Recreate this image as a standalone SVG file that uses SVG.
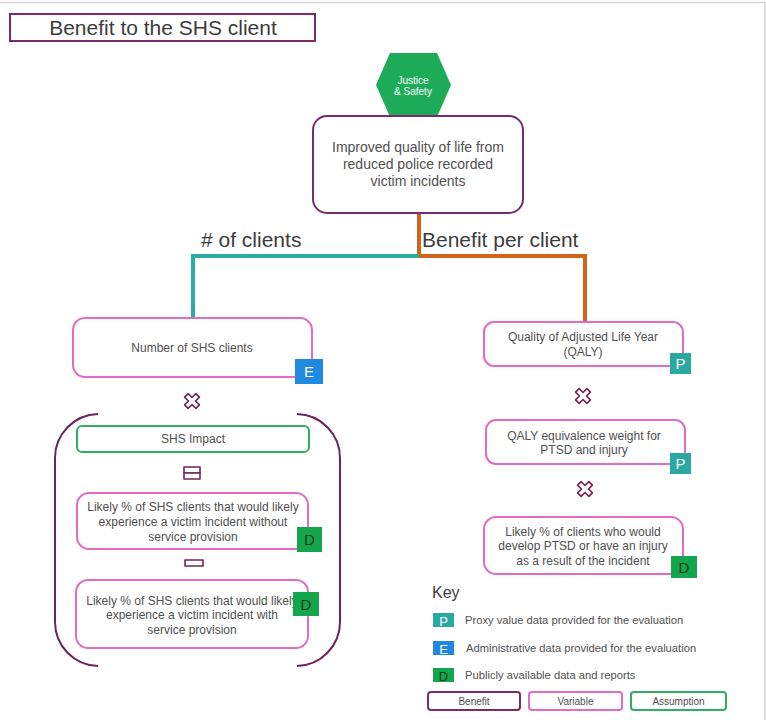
<svg xmlns="http://www.w3.org/2000/svg" width="766" height="720" viewBox="0 0 766 720">
  <style>
    text { font-family: "Liberation Sans", Arial, sans-serif; fill: #505050; }
    .benefit { fill: #fff; stroke: #7b2a6c; stroke-width: 2; }
    .variable { fill: #fff; stroke: #e36bc4; stroke-width: 2; }
    .assumption { fill: #fff; stroke: #2eae62; stroke-width: 2; }
    .node { font-size: 12px; text-anchor: middle; }
    .badge-p { fill: #2aa9a1; }
    .badge-e { fill: #1f88e0; }
    .badge-d { fill: #14a64c; }
    .btxt { font-size: 15px; text-anchor: middle; fill: #fff; }
    .dtxt { font-size: 15px; text-anchor: middle; fill: #173a1f; }
    .op { fill: #fff; stroke: #6e2458; stroke-width: 1.6; stroke-linejoin: round; }
    .keytxt { font-size: 11.2px; fill: #505050; }
    .legtxt { font-size: 10px; text-anchor: middle; }
  </style>
  <defs>
    <path id="times" class="op" d="M-2.5,-8 L2.5,-8 L2.5,-2.5 L8,-2.5 L8,2.5 L2.5,2.5 L2.5,8 L-2.5,8 L-2.5,2.5 L-8,2.5 L-8,-2.5 L-2.5,-2.5 Z" transform="rotate(45)"/>
  </defs>

  <!-- page frame -->
  <rect x="0" y="0" width="766" height="720" fill="#fff"/>
  <path d="M0,2.5 H765 V720" fill="none" stroke="#d6d6d6" stroke-width="1.5"/>

  <!-- title -->
  <g id="title">
    <rect class="benefit" x="10" y="14" width="305" height="27"/>
    <text x="163" y="35" font-size="21" text-anchor="middle" style="fill:#3c3c3c">Benefit to the SHS client</text>
  </g>

  <!-- connectors -->
  <g id="connectors" fill="none" stroke-width="4">
    <path d="M419,213 V256 H585 V321" stroke="#d4621b"/>
    <path d="M419,256 H193 V318" stroke="#2aada6"/>
  </g>
  <g id="branch-labels">
    <text x="201" y="247" font-size="21" style="fill:#3c3c3c"># of clients</text>
    <text x="422" y="247" font-size="21" style="fill:#3c3c3c">Benefit per client</text>
  </g>

  <!-- outcome domain -->
  <g id="domain">
    <polygon points="390,53 437,53 451,85 437,117 390,117 376,85" fill="#1dab57"/>
    <text x="413" y="84" font-size="10" text-anchor="middle" style="fill:#fff">Justice</text>
    <text x="413" y="95" font-size="10" text-anchor="middle" style="fill:#fff">&amp; Safety</text>
  </g>

  <g id="benefit">
    <rect class="benefit" x="313" y="116" width="210" height="97" rx="14"/>
    <text class="node" x="418" y="152" style="font-size:14px">Improved quality of life from</text>
    <text class="node" x="418" y="169" style="font-size:14px">reduced police recorded</text>
    <text class="node" x="418" y="186" style="font-size:14px">victim incidents</text>
  </g>

  <!-- left branch -->
  <g id="num-clients">
    <rect class="variable" x="73" y="318" width="239" height="59" rx="12"/>
    <text class="node" x="192" y="352">Number of SHS clients</text>
    <rect class="badge-e" x="295" y="359" width="28" height="25"/>
    <text class="btxt" x="309" y="377">E</text>
  </g>

  <use href="#times" x="192" y="401"/>

  <g id="impact-bracket" fill="none" stroke="#6e2458" stroke-width="2">
    <path d="M98,414 A44,44 0 0 0 55,458 V622 A44,44 0 0 0 98,666"/>
    <path d="M297,414 A44,44 0 0 1 340,458 V622 A44,44 0 0 1 297,666"/>
  </g>

  <g id="shs-impact">
    <rect class="assumption" x="77" y="426" width="232" height="26" rx="5"/>
    <text class="node" x="193" y="443">SHS Impact</text>
  </g>

  <g id="equals">
    <rect class="op" x="184" y="467" width="16" height="6"/>
    <rect class="op" x="184" y="473" width="16" height="6"/>
  </g>

  <g id="without-provision">
    <rect class="variable" x="77" y="493" width="231" height="56" rx="12"/>
    <text class="node" x="193" y="511">Likely % of SHS clients that would likely</text>
    <text class="node" x="193" y="526">experience a victim incident without</text>
    <text class="node" x="193" y="541">service provision</text>
    <rect class="badge-d" x="297" y="527" width="25" height="25"/>
    <text class="dtxt" x="309.5" y="545">D</text>
  </g>

  <g id="minus">
    <rect class="op" x="185" y="560" width="18" height="6"/>
  </g>

  <g id="with-provision">
    <rect class="variable" x="76" y="580" width="232" height="68" rx="12"/>
    <text class="node" x="192" y="605">Likely % of SHS clients that would likely</text>
    <text class="node" x="192" y="619">experience a victim incident with</text>
    <text class="node" x="192" y="634">service provision</text>
    <rect class="badge-d" x="293" y="592" width="26" height="24"/>
    <text class="dtxt" x="306" y="610">D</text>
  </g>

  <!-- right branch -->
  <g id="qaly">
    <rect class="variable" x="484" y="322" width="199" height="44" rx="10"/>
    <text class="node" x="583" y="341">Quality of Adjusted Life Year</text>
    <text class="node" x="583" y="356">(QALY)</text>
    <rect class="badge-p" x="670" y="353" width="21" height="21"/>
    <text class="btxt" x="680.5" y="369">P</text>
  </g>

  <use href="#times" x="583" y="396"/>

  <g id="qaly-weight">
    <rect class="variable" x="486" y="420" width="199" height="44" rx="10"/>
    <text class="node" x="584" y="440">QALY equivalence weight for</text>
    <text class="node" x="584" y="454">PTSD and injury</text>
    <rect class="badge-p" x="670" y="453" width="21" height="21"/>
    <text class="btxt" x="680.5" y="469">P</text>
  </g>

  <use href="#times" x="585" y="489"/>

  <g id="ptsd-injury">
    <rect class="variable" x="484" y="517" width="199" height="57" rx="12"/>
    <text class="node" x="583" y="536">Likely % of clients who would</text>
    <text class="node" x="583" y="550">develop PTSD or have an injury</text>
    <text class="node" x="583" y="565">as a result of the incident</text>
    <rect class="badge-d" x="671" y="556" width="26" height="22"/>
    <text class="dtxt" x="684" y="573">D</text>
  </g>

  <!-- key -->
  <g id="key">
    <text x="432" y="598" font-size="16" style="fill:#3c3c3c">Key</text>
    <rect class="badge-p" x="433" y="613" width="21" height="14"/>
    <text class="btxt" x="443.5" y="626" style="font-size:13px">P</text>
    <text class="keytxt" x="465" y="624">Proxy value data provided for the evaluation</text>
    <rect class="badge-e" x="433" y="641" width="21" height="14"/>
    <text class="btxt" x="443.5" y="654" style="font-size:13px">E</text>
    <text class="keytxt" x="466" y="652">Administrative data provided for the evaluation</text>
    <rect class="badge-d" x="433" y="668" width="21" height="14"/>
    <text class="dtxt" x="443.5" y="681" style="font-size:13px">D</text>
    <text class="keytxt" x="465" y="679">Publicly available data and reports</text>
    <rect class="benefit" x="428" y="692" width="92" height="18" rx="3"/>
    <text class="legtxt" x="474" y="705">Benefit</text>
    <rect class="variable" x="529" y="692" width="93" height="18" rx="3"/>
    <text class="legtxt" x="575.5" y="705">Variable</text>
    <rect class="assumption" x="631" y="692" width="95" height="18" rx="3"/>
    <text class="legtxt" x="678.5" y="705">Assumption</text>
  </g>
</svg>
